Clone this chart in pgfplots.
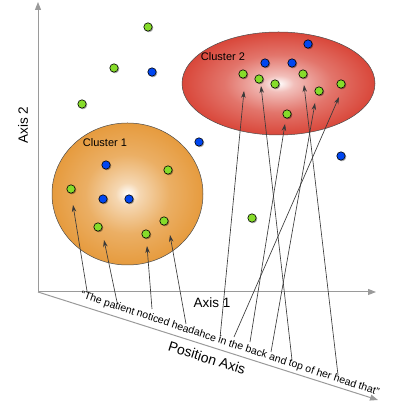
\documentclass[border=0pt]{standalone}
\usepackage{pgfplots}
\pgfplotsset{compat=1.18}
\usepackage{pgfplotstable}
\usepackage{fontspec}
\setmainfont{Liberation Sans}
\usetikzlibrary{arrows.meta}
\definecolor{axgray}{HTML}{9A9A9A}
\definecolor{c1o}{HTML}{E69B3E}
\definecolor{c2o}{HTML}{D9473A}
\definecolor{gdot}{HTML}{86DC2A}
\definecolor{bdot}{HTML}{0046F0}
\definecolor{arr}{HTML}{3A3A3A}
\pgfdeclareradialshading{cOne}{\pgfpoint{0bp}{0bp}}{color(0bp)=(white); color(4bp)=(c1o!40!white); color(14bp)=(c1o!80!white); color(25bp)=(c1o); color(50bp)=(c1o)}
\pgfdeclareradialshading{cTwo}{\pgfpoint{0bp}{0bp}}{color(0bp)=(white); color(4bp)=(c2o!35!white); color(14bp)=(c2o!75!white); color(25bp)=(c2o); color(50bp)=(c2o)}

\pgfplotstableread{
x y
148 -27
114 -68
82 -104
252 -218
71 -189
168 -170
98 -227
164 -221
146 -234
243 -74
259 -79
275 -84
303 -74
319 -91
341 -84
287 -114
}\greenpts
\pgfplotstableread{
x y
152 -72
199 -142
341 -156
106 -165
103 -199
129 -199
308 -44
265 -63
292 -63
}\bluepts
\pgfplotstableread{
x0 y0 x1 y1
87 -291 73 -205
117 -302 104 -240
152 -309 147 -246
186 -324 170 -235
220 -338 244 -91
234 -337 339 -97
250 -342 285 -124
271 -352 315 -103
292 -360 261 -86
338 -375 304 -85
}\arrows

\begin{document}
\begin{tikzpicture}
\begin{axis}[scale only axis, width=396pt, height=403pt,
  xmin=0, xmax=396, ymin=-403, ymax=0, hide axis, clip=false]
% clusters
\shade[shading=cOne, draw=black!70, line width=0.5pt] (axis cs:127.5,-194) ellipse [x radius=75.5, y radius=71];
\shade[shading=cTwo, draw=black!70, line width=0.5pt] (axis cs:278.5,-83.5) ellipse [x radius=96.5, y radius=51.5];
\node[font=\fontsize{11}{12}\selectfont] at (axis cs:105,-143) {Cluster 1};
\node[font=\fontsize{11}{12}\selectfont] at (axis cs:223,-57) {Cluster 2};
% axes
\addplot[axgray, line width=1pt, -{Triangle[length=8pt,width=6pt]}] coordinates {(38,-292) (38,-2)};
\addplot[axgray, line width=1pt, -{Triangle[length=8pt,width=6pt]}] coordinates {(38,-292) (376,-292)};
\addplot[axgray, line width=1pt, -{Triangle[length=8pt,width=6pt]}] coordinates {(38,-292) (378,-400)};
% dots shadows
\addplot[only marks, mark=*, mark size=4.2pt, mark options={draw=none, fill=black, opacity=0.25}, xshift=0.9pt, yshift=-0.9pt] table[x=x,y=y] {\greenpts};
\addplot[only marks, mark=*, mark size=4.2pt, mark options={draw=none, fill=black, opacity=0.25}, xshift=0.9pt, yshift=-0.9pt] table[x=x,y=y] {\bluepts};
% dots
\addplot[only marks, mark=*, mark size=4.2pt, mark options={draw=black, fill=gdot, line width=0.6pt}] table[x=x,y=y] {\greenpts};
\addplot[only marks, mark=*, mark size=4.2pt, mark options={draw=black, fill=bdot, line width=0.6pt}] table[x=x,y=y] {\bluepts};
% arrows
\addplot[arr, line width=0.65pt, -{Stealth[length=7pt,width=4.5pt]},
  quiver={u=\thisrow{x1}-\thisrow{x0}, v=\thisrow{y1}-\thisrow{y0}}] table[x=x0,y=y0] {\arrows};
% labels
\node[rotate=90, font=\fontsize{13.5}{15}\selectfont] at (axis cs:23,-125) {Axis 2};
\node[font=\fontsize{13.5}{15}\selectfont] at (axis cs:212,-303) {Axis 1};
\node[rotate=-17.6, font=\fontsize{14}{16}\selectfont] at (axis cs:207,-358) {Position Axis};
\node[rotate=-18.2, anchor=base west, inner sep=0pt, font=\fontsize{10.5}{12}\selectfont] at (axis cs:80,-297.5) {“The patient noticed headahce in the back and top of her head that”};
\end{axis}
\pgfresetboundingbox
\useasboundingbox (0,0) rectangle (396pt,403pt);
\end{tikzpicture}
\end{document}
